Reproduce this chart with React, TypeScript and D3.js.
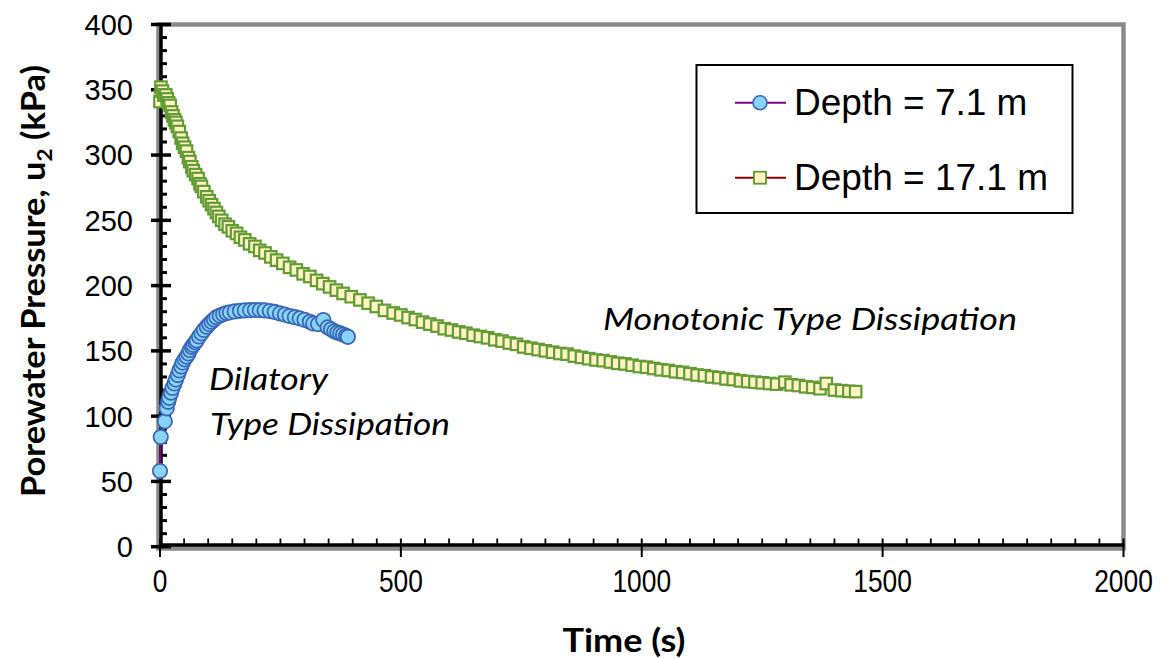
import React from 'react';
import * as d3 from 'd3';

// Piezocone dissipation records: time since pause (s) vs. u2 porewater pressure (kPa)
const shallowTime = [0, 1.5, 10, 14, 17, 19, 23, 26, 30, 33, 37, 40, 44, 47, 51, 55, 59, 62, 66, 69, 73, 76, 81, 86, 91, 97, 102, 107, 112, 117, 124, 131, 138, 145, 155, 166, 176, 187, 197, 207, 217, 228, 238, 249, 259, 269, 280, 290, 300, 311, 318, 328, 339, 348, 355, 362, 368, 374, 380, 386, 390];
const shallowPressure = [58, 84, 96, 106, 111, 114, 118, 121.6, 125, 128, 131.5, 135, 138, 141, 143.5, 145.6, 148, 150.7, 153, 154.5, 156.5, 158, 161, 163.4, 166, 168.5, 170.5, 172.3, 174, 175.7, 177, 178, 179, 179.5, 180.2, 180.7, 181, 181.2, 181.3, 181.2, 181, 180.5, 179.8, 178.7, 177.8, 176.7, 175.8, 174.9, 173.8, 172.3, 171, 170.5, 173.6, 168, 166.5, 165, 164, 163.4, 162.5, 161.5, 160.8];

const deepTime = [0, 2, 5, 8, 12, 15, 18, 21, 24, 27, 30, 33, 36, 40, 44, 47, 51, 55, 59, 62, 66, 69, 74, 79, 83, 86, 91, 97, 102, 107, 112, 117, 122, 128, 135, 142, 150, 159, 167, 176, 186, 197, 207, 218, 230, 242, 255, 269, 283, 297, 311, 325, 338, 352, 366, 380, 397, 415, 432, 449, 466, 484, 500, 515, 530, 545, 560, 575, 590, 605, 620, 635, 650, 665, 680, 695, 710, 725, 740, 755, 770, 785, 800, 815, 830, 845, 860, 875, 890, 905, 920, 935, 950, 965, 980, 995, 1010, 1025, 1040, 1055, 1070, 1085, 1100, 1115, 1130, 1145, 1160, 1175, 1190, 1205, 1220, 1235, 1250, 1265, 1280, 1297, 1310, 1325, 1340, 1355, 1370, 1383, 1400, 1415, 1430, 1444];
const deepPressure = [341, 352, 349, 346, 346, 343, 340, 338, 333, 330, 327, 325, 322, 318, 313, 309, 306, 303, 298, 295, 291, 288, 285, 282, 278, 276, 272, 268, 265, 262, 259, 256, 253, 250, 247, 245, 242, 240, 237, 235, 232, 230, 227, 225, 222, 219.5, 217, 214, 212, 209, 207, 204, 201.5, 199, 196.5, 194, 191.5, 189, 186.5, 184, 181, 179, 177.5, 175.5, 174, 172, 170.5, 169, 167, 166, 164.5, 163.5, 162, 161, 160, 158.5, 157.5, 156, 155, 153, 152, 151, 150, 149, 148, 147.5, 146, 145, 144, 143, 142.5, 141.5, 140.5, 140, 139, 138, 137.5, 136.5, 135.5, 135, 134, 133.5, 132.5, 131.5, 131, 130, 129.5, 128.5, 128, 127, 126.5, 126, 125.5, 125, 124.5, 126, 124, 123.5, 122.5, 122, 121, 125, 120, 119.5, 119, 118.8];

const seriesNames = ['Depth = 7.1 m', 'Depth = 17.1 m'];
const xTickValues = [0, 500, 1000, 1500, 2000];
const yTickValues = [0, 50, 100, 150, 200, 250, 300, 350, 400];

const numFont = '"Liberation Sans", Arial, sans-serif';
const titleFont = 'Lato, "Open Sans", sans-serif';

export default function App() {
  const width = 1164;
  const height = 659;
  const left = 160;
  const right = 1123.5;
  const top = 24.5;
  const bottom = 546.7;

  const x = d3.scaleLinear().domain([0, 2000]).range([left, right]);
  const y = d3.scaleLinear().domain([0, 400]).range([bottom, top]);

  const shallow = shallowTime.map((t, i) => ({ t, u: shallowPressure[i] }));
  const deep = deepTime.map((t, i) => ({ t, u: deepPressure[i] }));

  const line = d3
    .line<{ t: number; u: number }>()
    .x((d) => x(d.t))
    .y((d) => y(d.u));

  const yMinor = d3.range(0, 401, 10).filter((v) => v % 50 !== 0);
  const xMinor = d3.range(0, 2001, 50).filter((v) => v % 500 !== 0);

  const axisX = 161;
  const axisY = 545;
  const sq = 11.5;
  const squareStroke = '#629c34';
  const squareFill = '#fff2c4';
  const circleFill = '#88d4f7';
  const circleStroke = '#3a68b8';

  return (
    <svg
      width={width}
      height={height}
      style={{ position: 'absolute', left: 0, top: 0, background: '#fff' }}
    >
      {/* plot frame */}
      <rect
        x={158.5}
        y={top}
        width={right - 158.5}
        height={548.5 - top}
        fill="none"
        stroke="#8a8a8a"
        strokeWidth={4.5}
      />

      {/* y axis */}
      <line x1={axisX} x2={axisX} y1={top - 1} y2={axisY + 1} stroke="#000" strokeWidth={3.5} />
      {yMinor.map((v) => (
        <line key={'ym' + v} x1={axisX} x2={167} y1={y(v)} y2={y(v)} stroke="#000" strokeWidth={3} />
      ))}
      {yTickValues.map((v) => (
        <line key={'yM' + v} x1={151} x2={171} y1={y(v)} y2={y(v)} stroke="#000" strokeWidth={3.5} />
      ))}
      {yTickValues.map((v) => (
        <text
          key={'yl' + v}
          x={133}
          y={y(v)}
          dy="0.36em"
          textAnchor="end"
          fontFamily={numFont}
          fontSize={29}
          fill="#000"
        >
          {v}
        </text>
      ))}

      {/* x axis */}
      <line x1={159} x2={right + 1} y1={axisY} y2={axisY} stroke="#000" strokeWidth={3.5} />
      {xMinor.map((v) => (
        <line key={'xm' + v} x1={x(v)} x2={x(v)} y1={axisY} y2={538.5} stroke="#000" strokeWidth={1.8} />
      ))}
      {xTickValues.map((v) => (
        <line key={'xM' + v} x1={x(v)} x2={x(v)} y1={538.5} y2={557} stroke="#000" strokeWidth={2} />
      ))}
      {xTickValues.map((v) => (
        <text
          key={'xl' + v}
          transform={`translate(${x(v)}, 581) scale(0.85, 1)`}
          dy="0.36em"
          textAnchor="middle"
          fontFamily={numFont}
          fontSize={31}
          fill="#000"
        >
          {v}
        </text>
      ))}

      {/* axis titles */}
      <text
        x={624}
        y={652}
        textAnchor="middle"
        fontFamily={titleFont}
        fontWeight="bold"
        fontSize={33}
        fill="#000"
        textLength={123}
        lengthAdjust="spacingAndGlyphs"
      >
        Time (s)
      </text>
      <text
        transform="translate(45, 281) rotate(-90)"
        textAnchor="middle"
        fontFamily={titleFont}
        fontWeight="bold"
        fontSize={32}
        fill="#000"
        textLength={432}
        lengthAdjust="spacingAndGlyphs"
      >
        Porewater Pressure, u
        <tspan fontSize={21} dy={7}>2</tspan>
        <tspan dy={-7}> (kPa)</tspan>
      </text>

      {/* depth 7.1 m */}
      <path d={line(shallow) || ''} fill="none" stroke="#800080" strokeWidth={1.8} />
      {shallow.map((d, i) => (
        <circle
          key={'c' + i}
          cx={x(d.t)}
          cy={y(d.u)}
          r={7.2}
          fill={circleFill}
          stroke={circleStroke}
          strokeWidth={1.8}
        />
      ))}

      {/* depth 17.1 m */}
      <path d={line(deep) || ''} fill="none" stroke="#8b0000" strokeWidth={1.8} />
      {deep.map((d, i) => (
        <rect
          key={'s' + i}
          x={x(d.t) - sq / 2}
          y={y(d.u) - sq / 2}
          width={sq}
          height={sq}
          fill={squareFill}
          stroke={squareStroke}
          strokeWidth={2.2}
        />
      ))}

      {/* annotations */}
      <text
        x={209}
        y={390}
        fontFamily={titleFont}
        fontStyle="italic"
        fontSize={31}
        fill="#000"
        textLength={119}
        lengthAdjust="spacingAndGlyphs"
      >
        Dilatory
      </text>
      <text
        x={210}
        y={435}
        fontFamily={titleFont}
        fontStyle="italic"
        fontSize={31}
        fill="#000"
        textLength={240}
        lengthAdjust="spacingAndGlyphs"
      >
        Type Dissipation
      </text>
      <text
        x={603}
        y={330}
        fontFamily={titleFont}
        fontStyle="italic"
        fontSize={31}
        fill="#000"
        textLength={414}
        lengthAdjust="spacingAndGlyphs"
      >
        Monotonic Type Dissipation
      </text>

      {/* legend */}
      <rect x={696.5} y={65} width={376} height={148} fill="#fff" stroke="#000" strokeWidth={2} />
      <line x1={735} x2={786} y1={102.7} y2={102.7} stroke="#800080" strokeWidth={2} />
      <circle cx={760} cy={102.7} r={7} fill={circleFill} stroke={circleStroke} strokeWidth={1.6} />
      <text x={794} y={115} fontFamily={numFont} fontSize={37} fill="#000">
        {seriesNames[0]}
      </text>
      <line x1={735} x2={786} y1={177.7} y2={177.7} stroke="#8b0000" strokeWidth={2} />
      <rect x={760 - 6} y={177.7 - 6} width={12} height={12} fill={squareFill} stroke={squareStroke} strokeWidth={1.8} />
      <text x={794} y={190} fontFamily={numFont} fontSize={37} fill="#000">
        {seriesNames[1]}
      </text>
    </svg>
  );
}
